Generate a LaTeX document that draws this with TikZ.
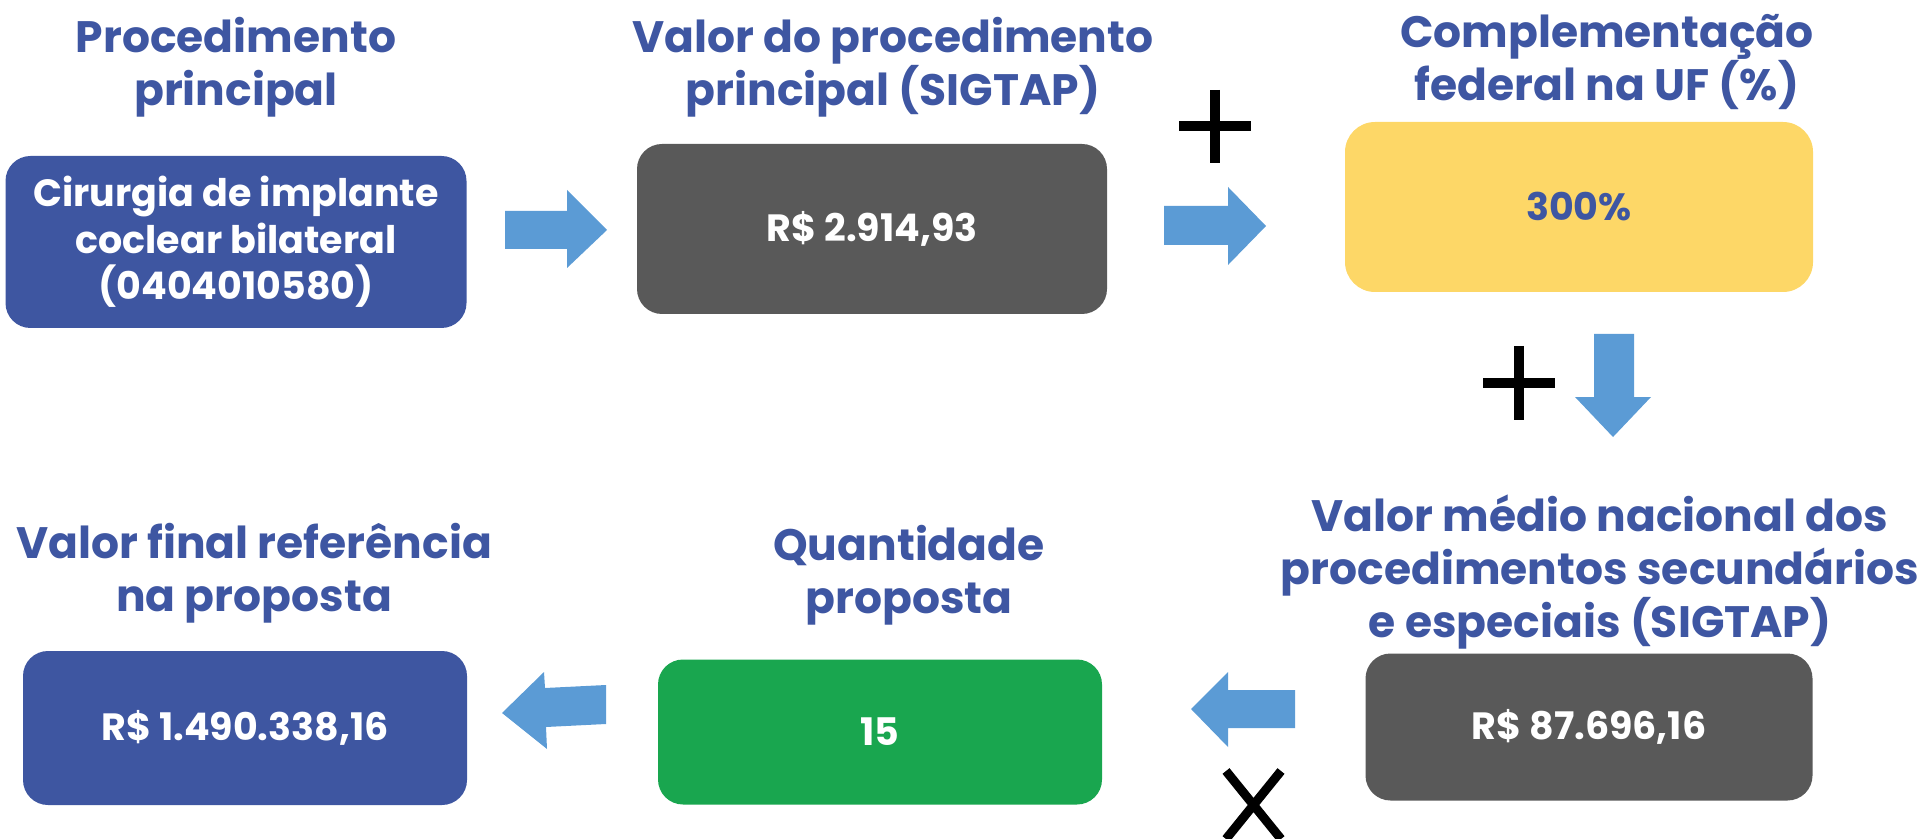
\documentclass[tikz,border=0pt]{standalone}
\usepackage{fontspec}
\setmainfont{Poppins}
\definecolor{titleblue}{RGB}{62,86,162}
\definecolor{boxblue}{RGB}{62,86,161}
\definecolor{boxgray}{RGB}{89,89,89}
\definecolor{boxyellow}{RGB}{253,215,103}
\definecolor{boxgreen}{RGB}{25,166,79}
\definecolor{arrowblue}{RGB}{91,155,213}
\begin{document}
\begin{tikzpicture}[x=0.5pt,y=-0.5pt,
  title/.style={text=titleblue, font=\bfseries\fontsize{22}{26.6}\selectfont, align=center, inner sep=0pt},
  valbox/.style={rounded corners=12.5pt, inner sep=0pt, align=center, text=white, font=\bfseries\fontsize{19}{22}\selectfont},
  blockarrow/.style={fill=arrowblue},
  signline/.style={line width=5pt, black}
]
\useasboundingbox (0,0) rectangle (1926,839);

% boxes
\node[valbox, fill=boxblue, minimum width=230.5pt, minimum height=86pt, font=\bfseries\fontsize{19}{23.2}\selectfont] (b1) at (236,242) {Cirurgia de implante\\coclear bilateral\\(0404010580)};
\node[valbox, fill=boxgray, minimum width=235pt, minimum height=85pt] (b2) at (872,229) {R\$ 2.914,93};
\node[valbox, fill=boxyellow, text=titleblue, rounded corners=15pt, minimum width=234pt, minimum height=85pt] (b3) at (1579,207) {300\%};
\node[valbox, fill=boxgray, minimum width=223.5pt, minimum height=73.5pt] (b4) at (1589,727) {R\$ 87.696,16};
\node[valbox, fill=boxgreen, minimum width=222pt, minimum height=72.5pt] (b5) at (880,732) {15};
\node[valbox, fill=boxblue, minimum width=222pt, minimum height=77pt] (b6) at (245,728) {R\$ 1.490.338,16};

% titles
\node[title] (t1) at (236,67) {Procedimento\\principal};
\node[title] (t2) at (893,67) {Valor do procedimento\\principal (SIGTAP)};
\node[title] (t3) at (1607,62) {Complementação\\federal na UF (\%)};
\node[title] (t4) at (1600,572) {Valor médio nacional dos\\procedimentos secundários\\e especiais (SIGTAP)};
\node[title] (t5) at (909,575) {Quantidade\\proposta};
\node[title] (t6) at (254,573) {Valor final referência\\na proposta};

% block arrows
\coordinate (a1) at (505,230);
\fill[blockarrow] (a1) ++(0,-19) -- ++(62,0) -- ++(0,-21) -- (607,230) -- (567,268) -- ++(0,-19) -- ++(-62,0) -- cycle;
\coordinate (a2) at (1164,226);
\fill[blockarrow] (a2) ++(0,-20) -- ++(64,0) -- ++(0,-19) -- (1266,226) -- (1228,265) -- ++(0,-20) -- ++(-64,0) -- cycle;
\coordinate (a3) at (1614,334);
\fill[blockarrow] (1594,334) -- (1634,334) -- (1634,397) -- (1651,397) -- (1613,437) -- (1575,397) -- (1594,397) -- cycle;
\coordinate (a4) at (1295,709);
\fill[blockarrow] (1295,690) -- (1228,690) -- (1228,672) -- (1191,709) -- (1228,747) -- (1228,728) -- (1295,728) -- cycle;
\coordinate (a5) at (606,705);
\fill[blockarrow] (606,685) -- (545,688) -- (544,672) -- (502,713) -- (547,749) -- (546,727) -- (606,724) -- cycle;

% operators
\draw[signline] (1179,126) -- (1251,126) (1215,90) -- (1215,163);
\draw[signline] (1483,383) -- (1555,383) (1519,346) -- (1519,420);
\draw[line width=4.5pt] (1226,771) -- (1281,839) (1281,771) -- (1226,839);
\end{tikzpicture}
\end{document}
